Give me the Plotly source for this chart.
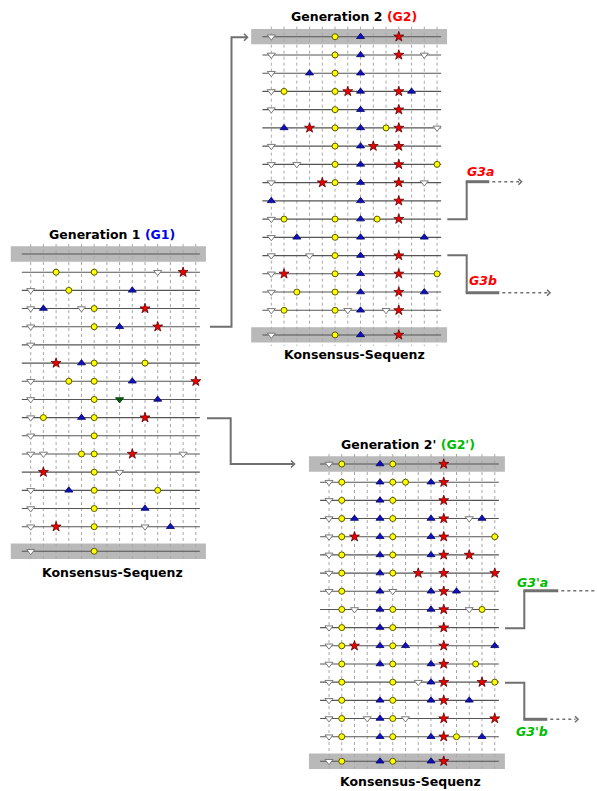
import plotly.graph_objects as go

W, H = 597, 791

# ---------------- data (column index per row; row 0 = top band, last = consensus) -------------
ROW_POS = list(range(16)) + [16.35]
N_COLS = 14

G1_down = [[], [10], [0], [0, 4], [0], [0], [], [0], [0], [0], [0], [0, 1, 12], [7], [0], [0], [0, 9], [0]]
G1_circle = [[], [2, 5], [3], [5], [5], [], [5, 9], [3, 5], [5], [1, 5], [5], [4, 5], [5], [5, 10], [5], [5], [5]]
G1_up = [[], [], [8], [1], [7], [], [4], [8], [10], [4], [], [], [], [3], [9], [11], []]
G1_star = [[], [12], [], [9], [10], [], [2], [13], [], [9], [], [8], [1], [], [], [2], []]
G1_green = [[], [], [], [], [], [], [], [], [7], [], [], [], [], [], [], [], []]

G2_down = [[0], [0, 12], [0], [0], [0], [13], [0], [0, 2], [0, 12], [], [0], [0], [0, 3], [0], [0], [0, 6, 9], [0]]
G2_circle = [[5], [5], [5], [1, 5], [5], [5, 9], [5], [5, 13], [5], [], [1, 5, 8.3], [5], [5], [5, 13], [2, 5], [1, 5], [5]]
G2_up = [[7], [7], [3, 7], [7, 11], [7], [1, 7], [7], [7], [7], [0, 7], [7], [2, 7, 12], [7], [7], [7, 12], [7], [7]]
G2_star = [[10], [10], [], [6, 10], [10], [3, 10], [8, 10], [10], [4, 10], [10], [10], [], [10], [1, 10], [10], [10], [10]]

G2p_down = [[0], [0], [0], [0, 11], [0], [0], [0], [0, 5], [2, 11], [0], [0], [0], [0, 7], [0], [0, 3, 6], [0], [0]]
G2p_circle = [[1, 5], [1, 5, 6], [1, 5], [1, 5], [1, 5, 13], [1, 5], [1, 5], [1], [1, 5, 12], [1, 5], [1, 5],
              [1, 5, 11.5], [1, 5, 13], [1, 5], [1, 5], [1, 5, 10], [1, 5]]
G2p_up = [[4], [4, 8], [4], [2, 4, 8, 12], [4, 8], [4, 8], [4], [4, 8, 10], [4, 8], [4], [4, 6, 13], [4, 8], [8],
          [4, 8, 11], [4], [4, 8, 12], [4, 8]]
G2p_star = [[9], [9], [9], [9], [2, 9], [9, 11], [7, 9, 13], [9], [9], [9], [2, 9], [9], [9, 12], [9], [9, 13], [9], [9]]

TITLES = ["Generation 1 ", "Generation 2 ", "Generation 2' "]
TAGS = ["(G1)", "(G2)", "(G2')"]
FOOTER = "Konsensus-Sequenz"
BRANCH_LABELS = ["G3a", "G3b", "G3'a", "G3'b"]

# ---------------- geometry / styles ----------------
panels = [
    dict(x0=30.7, dx=12.7, y0=254.0, dy=18.18, tag_color="#0000ee",
         title_xy=(112, 234), foot_xy=(112, 572),
         marks=dict(down=G1_down, circle=G1_circle, up=G1_up, star=G1_star, green=G1_green)),
    dict(x0=271.3, dx=12.75, y0=36.7, dy=18.24, tag_color="#ff0000",
         title_xy=(354, 17), foot_xy=(354, 354),
         marks=dict(down=G2_down, circle=G2_circle, up=G2_up, star=G2_star)),
    dict(x0=329.0, dx=12.75, y0=464.0, dy=18.18, tag_color="#00bb00",
         title_xy=(408, 445), foot_xy=(410, 781),
         marks=dict(down=G2p_down, circle=G2p_circle, up=G2p_up, star=G2p_star)),
]

STYLE = dict(
    down=dict(symbol="triangle-down", size=7, color="#ffffff", line=dict(color="#7a7a7a", width=1)),
    circle=dict(symbol="circle", size=6, color="#ffff00", line=dict(color="#5a5a00", width=1)),
    up=dict(symbol="triangle-up", size=7, color="#1010c0", line=dict(color="#000060", width=0.8)),
    star=dict(symbol="star", size=7.5, color="#ee0000", line=dict(color="#600000", width=0.8)),
    green=dict(symbol="triangle-down", size=7, color="#006000", line=dict(color="#003000", width=0.8)),
)

XR = (-1.6, 13.8)
YR = (17.0, -0.6)
FONT = "Comic Sans MS, DejaVu Sans, sans-serif"

fig = go.Figure()
shapes = []
annotations = []
layout_axes = {}

for i, p in enumerate(panels):
    k = "" if i == 0 else str(i + 1)
    xa, ya = "x" + k, "y" + k
    xd = [(p["x0"] + XR[0] * p["dx"]) / W, (p["x0"] + XR[1] * p["dx"]) / W]
    top_px = p["y0"] + YR[1] * p["dy"]
    bot_px = p["y0"] + YR[0] * p["dy"]
    yd = [1 - bot_px / H, 1 - top_px / H]
    layout_axes["xaxis" + k] = dict(domain=xd, range=list(XR), visible=False, fixedrange=True, anchor=ya)
    layout_axes["yaxis" + k] = dict(domain=yd, range=list(YR), visible=False, fixedrange=True, anchor=xa)

    # gray bands (top row and consensus row)
    for r in (ROW_POS[0], ROW_POS[-1]):
        shapes.append(dict(type="rect", xref=xa, yref=ya, x0=-1.58, x1=13.8, y0=r - 0.42, y1=r + 0.42,
                           fillcolor="#b9b9b9", line=dict(width=0), layer="below"))

    # vertical dotted grid
    vx, vy = [], []
    for c in range(N_COLS):
        vx += [c, c, None]
        vy += [-0.55, 16.95, None]
    fig.add_trace(go.Scatter(x=vx, y=vy, xaxis=xa, yaxis=ya, mode="lines",
                             line=dict(color="#a8a8a8", width=1, dash="dot"), hoverinfo="skip", showlegend=False))
    # row lines
    hx, hy = [], []
    for r in ROW_POS:
        hx += [-0.7, 13.32, None]
        hy += [r, r, None]
    fig.add_trace(go.Scatter(x=hx, y=hy, xaxis=xa, yaxis=ya, mode="lines",
                             line=dict(color="#555555", width=1.1), hoverinfo="skip", showlegend=False))
    # markers
    for kind, rows in p["marks"].items():
        mx, my = [], []
        for ri, cols in enumerate(rows):
            for c in cols:
                mx.append(c)
                my.append(ROW_POS[ri])
        st = STYLE[kind]
        fig.add_trace(go.Scatter(x=mx, y=my, xaxis=xa, yaxis=ya, mode="markers",
                                 marker=dict(symbol=st["symbol"], size=st["size"], color=st["color"], line=st["line"]),
                                 hoverinfo="skip", showlegend=False))

    tx, ty = p["title_xy"]
    annotations.append(dict(x=tx / W, y=1 - ty / H, xref="paper", yref="paper", showarrow=False,
                            xanchor="center", yanchor="middle",
                            text="<b>%s<span style='color:%s'>%s</span></b>" % (TITLES[i], p["tag_color"], TAGS[i]),
                            font=dict(family=FONT, size=12.5, color="#000000")))
    fx, fy = p["foot_xy"]
    annotations.append(dict(x=fx / W, y=1 - fy / H, xref="paper", yref="paper", showarrow=False,
                            xanchor="center", yanchor="middle", text="<b>%s</b>" % FOOTER,
                            font=dict(family=FONT, size=12.5, color="#000000")))


def P(px, py):
    return "%.5f,%.5f" % (px / W, 1 - py / H)


def path(pts):
    return "M" + " L".join(P(x, y) for x, y in pts)


CONN = "#707070"


def add_path(pts, width=2, dash="solid"):
    shapes.append(dict(type="path", xref="paper", yref="paper", path=path(pts),
                       line=dict(color=CONN, width=width, dash=dash)))


def chevron(px, py, s=3.5):
    add_path([(px - s, py - s), (px, py), (px - s, py + s)], width=1.6)


# G1 -> G2
add_path([(210, 326.7), (231.5, 326.7), (231.5, 37.3), (247, 37.3)])
chevron(247.5, 37.3)
# G1 -> G2'
add_path([(207, 418.3), (230.7, 418.3), (230.7, 464), (294, 464)])
chevron(294.5, 464)

# branches: (start_y, x_start, x_knee, y_end, x_thick_end, x_dot_end, arrow)
branches = [
    (219.3, 447.3, 466.7, 181.7, 489.3, 519.0, True),
    (255.3, 447.3, 466.7, 292.7, 499.3, 547.5, True),
    (628.3, 505.0, 524.3, 590.7, 558.3, 597.0, False),
    (682.7, 505.0, 524.3, 719.3, 547.3, 575.5, True),
]
for (sy, xs, xk, ey, xt, xe, arr) in branches:
    add_path([(xs, sy), (xk, sy), (xk, ey)], width=2)
    add_path([(xk - 1, ey), (xt, ey)], width=3)
    add_path([(xt + 3, ey), (xe, ey)], width=1.6, dash="dot")
    if arr:
        chevron(xe + 2.5, ey, 3)

label_pos = [(480, 171.5), (483, 280.5), (532, 582), (532, 731.5)]
label_col = ["#ff0000", "#ff0000", "#00bb00", "#00bb00"]
for (lx, ly), t, c in zip(label_pos, BRANCH_LABELS, label_col):
    annotations.append(dict(x=lx / W, y=1 - ly / H, xref="paper", yref="paper", showarrow=False,
                            xanchor="center", yanchor="middle", text="<b><i>%s</i></b>" % t,
                            font=dict(family=FONT, size=12.5, color=c)))

fig.update_layout(
    width=W, height=H, margin=dict(l=0, r=0, t=0, b=0),
    paper_bgcolor="#ffffff", plot_bgcolor="rgba(0,0,0,0)",
    shapes=shapes, annotations=annotations, showlegend=False,
    **layout_axes,
)

fig.write_html("out.html", config=dict(displayModeBar=False),
               post_script="document.body.style.margin='0px';document.body.style.overflow='hidden';")
